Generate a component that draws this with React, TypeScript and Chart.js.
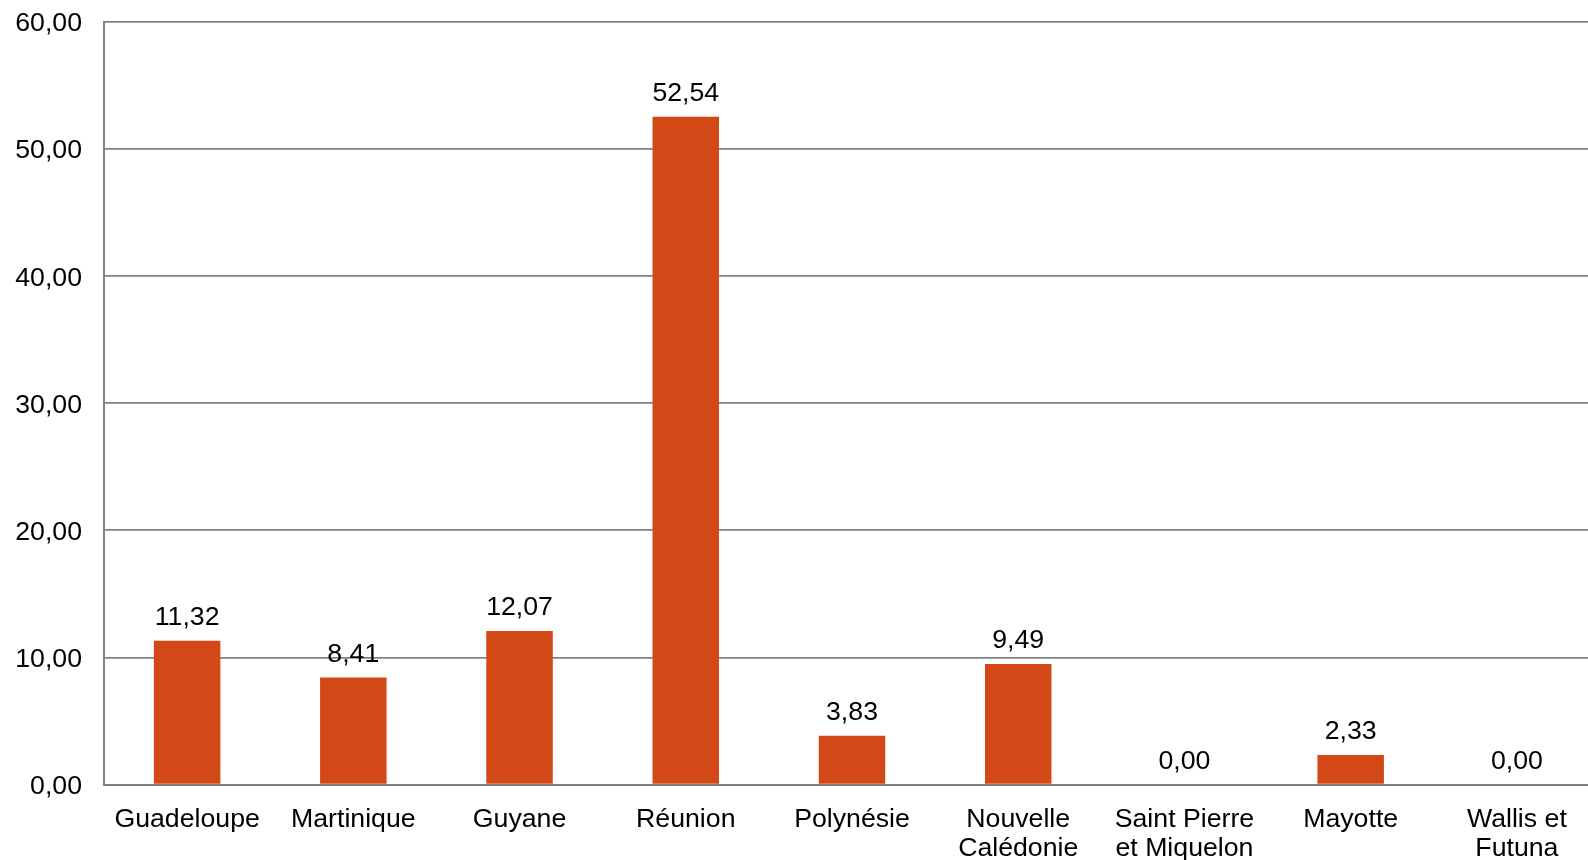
import React, { useEffect, useRef } from "react";
import { Chart, registerables } from "chart.js";

Chart.register(...registerables);

const territories: (string | string[])[] = [
  "Guadeloupe",
  "Martinique",
  "Guyane",
  "Réunion",
  "Polynésie",
  ["Nouvelle", "Calédonie"],
  ["Saint Pierre", "et Miquelon"],
  "Mayotte",
  ["Wallis et", "Futuna"],
];

const shares: number[] = [11.32, 8.41, 12.07, 52.54, 3.83, 9.49, 0.0, 2.33, 0.0];

const yTicks: number[] = [0, 10, 20, 30, 40, 50, 60];

const FONT = '"Liberation Sans", Arial, Helvetica, sans-serif';
const FONT_SIZE = 26.7;
const BAR_COLOR = "#D34817";
const GRID_COLOR = "#828282";

const fmt = (v: number) => v.toFixed(2).replace(".", ",");

const valueLabels = {
  id: "valueLabels",
  afterDatasetsDraw(chart: Chart) {
    const { ctx } = chart;
    const meta = chart.getDatasetMeta(0);
    const data = chart.data.datasets[0].data as number[];
    ctx.save();
    ctx.font = `${FONT_SIZE}px ${FONT}`;
    ctx.fillStyle = "#000000";
    ctx.textAlign = "center";
    ctx.textBaseline = "alphabetic";
    meta.data.forEach((bar: any, i: number) => {
      ctx.fillText(fmt(data[i]), bar.x, bar.y - 16);
    });
    ctx.restore();
  },
};

export default function App() {
  const canvasRef = useRef<HTMLCanvasElement | null>(null);

  useEffect(() => {
    if (!canvasRef.current) return;
    const chart = new Chart(canvasRef.current, {
      type: "bar",
      data: {
        labels: territories,
        datasets: [
          {
            data: shares,
            backgroundColor: BAR_COLOR,
            borderWidth: 0,
            categoryPercentage: 1,
            barPercentage: 0.4,
          },
        ],
      },
      options: {
        responsive: false,
        animation: false,
        layout: { padding: { top: 22, right: 0, left: 0, bottom: 0 } },
        plugins: {
          legend: { display: false },
          tooltip: { enabled: false },
        },
        scales: {
          x: {
            grid: { display: false, drawTicks: false },
            border: { color: GRID_COLOR, width: 2 },
            ticks: {
              color: "#000000",
              font: { family: FONT, size: FONT_SIZE, lineHeight: 1.1 },
              padding: 20,
              maxRotation: 0,
              minRotation: 0,
              autoSkip: false,
            },
            afterFit(scale: any) {
              scale.height = 75.5;
              scale.paddingLeft = 0;
              scale.paddingRight = 0;
            },
          },
          y: {
            min: 0,
            max: 60,
            afterBuildTicks(scale: any) {
              scale.ticks = yTicks.map((v) => ({ value: v }));
            },
            grid: { color: GRID_COLOR, lineWidth: 1.7, drawTicks: false },
            border: { color: GRID_COLOR, width: 2 },
            ticks: {
              color: "#000000",
              font: { family: FONT, size: FONT_SIZE },
              padding: 22,
              labelOffset: 2,
              callback: (v: any) => fmt(Number(v)),
            },
            afterFit(scale: any) {
              scale.width = 104;
              scale.paddingTop = 0;
              scale.paddingBottom = 0;
            },
          },
        },
      },
      plugins: [valueLabels],
    });
    return () => chart.destroy();
  }, []);

  return (
    <div
      style={{
        position: "fixed",
        left: 0,
        top: 0,
        width: 1588,
        height: 860,
        overflow: "hidden",
        background: "#ffffff",
      }}
    >
      <canvas ref={canvasRef} width={1600} height={860} style={{ display: "block" }} />
    </div>
  );
}
